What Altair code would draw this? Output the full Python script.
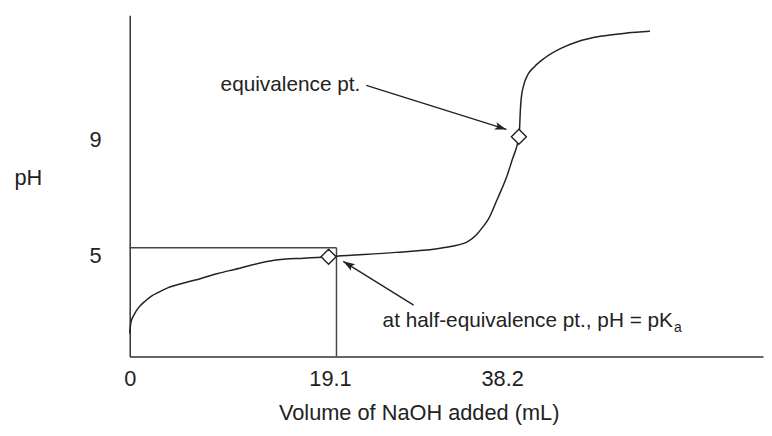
import math
import altair as alt
import pandas as pd

# ---- plot geometry (plot area only) ----
W, H = 640, 345
X_DOMAIN = [0, 58.5]
Y_DOMAIN = [1.5, 13.3]

# ---- titration curve (mL, pH) ----
curve_ml = [0.0, 0.064, 0.18, 0.37, 0.59, 0.82, 1.44, 2.01, 2.65, 3.56, 5.09, 6.58,
            8.14, 9.69, 13.35, 16.09, 17.73, 18.37, 19.1, 24.59, 28.24, 29.77,
            31.26, 32.03, 32.64, 33.09, 34.0, 34.77, 35.38, 35.78, 35.95,
            36.01, 36.08, 36.17, 36.41, 36.77, 37.39, 38.3, 39.83, 41.35,
            43.48, 45.92, 48.05]
curve_ph = [2.29, 2.56, 2.77, 2.92, 3.07, 3.19, 3.42, 3.59, 3.72, 3.88, 4.05, 4.20,
            4.37, 4.51, 4.83, 4.90, 4.93, 4.95, 4.97, 5.10, 5.22, 5.31,
            5.48, 5.71, 5.99, 6.22, 6.98, 7.66, 8.35, 8.80, 9.10,
            9.36, 9.98, 10.44, 10.90, 11.24, 11.52, 11.81, 12.15, 12.38,
            12.57, 12.68, 12.74]

# ---- marked points (diamonds) ----
marker_ml = [18.37, 35.95]
marker_ph = [4.95, 9.10]

# ---- half-equivalence guide lines ----
half_eq_ml = 19.1
guide_ph = 5.26

# ---- axis ticks ----
tick_pos = [0, 18.5, 34.4]
tick_labels = ["0", "19.1", "38.2"]
y_ticks = [5, 9]

# ---- annotation arrows ----
arrow_from_ml = [21.85, 26.23]
arrow_from_ph = [10.87, 3.28]
arrow_to_ml = [34.8, 19.72]
arrow_to_ph = [9.35, 4.79]

# ---- annotation texts ----
label_text = ["equivalence pt.", "at half-equivalence pt., pH = pK"]
label_ml = [21.3, 50.18]
label_ph = [10.67, 2.53]
sub_text = ["a"]

FONT = "Liberation Sans"
INK = "#222222"

px_x = W / (X_DOMAIN[1] - X_DOMAIN[0])
px_y = H / (Y_DOMAIN[1] - Y_DOMAIN[0])

curve_df = pd.DataFrame({"ml": curve_ml, "ph": curve_ph})
marker_df = pd.DataFrame({"ml": marker_ml, "ph": marker_ph})
guide_df = pd.DataFrame({
    "x": [X_DOMAIN[0], half_eq_ml],
    "x2": [half_eq_ml, half_eq_ml],
    "y": [guide_ph, guide_ph],
    "y2": [guide_ph, Y_DOMAIN[0]],
})
arrow_df = pd.DataFrame({
    "x": arrow_from_ml, "y": arrow_from_ph,
    "x2": arrow_to_ml, "y2": arrow_to_ph,
})
arrow_df["ang"] = [
    math.degrees(math.atan2(-(y2 - y1) * px_y, (x2 - x1) * px_x)) % 360
    for x1, y1, x2, y2 in zip(arrow_from_ml, arrow_from_ph, arrow_to_ml, arrow_to_ph)
]
label_df = pd.DataFrame({"ml": label_ml, "ph": label_ph, "t": label_text})
sub_df = pd.DataFrame({"ml": [label_ml[1]], "ph": [label_ph[1]], "t": sub_text})

label_expr = "".join(
    f"datum.value == {p} ? '{l}' : " for p, l in zip(tick_pos, tick_labels)
) + "''"

xscale = alt.Scale(domain=X_DOMAIN, nice=False, zero=False)
yscale = alt.Scale(domain=Y_DOMAIN, nice=False, zero=False)

x_axis = alt.Axis(
    values=tick_pos, labelExpr=label_expr, ticks=False, grid=False,
    labelFlush=False, labelOverlap=False, labelPadding=12,
    title="Volume of NaOH added (mL)", titlePadding=14, titleX=292,
)
y_axis = alt.Axis(
    values=y_ticks, ticks=False, grid=False, labelPadding=29,
    title="pH", titleAngle=0, titleX=-103, titleY=164,
    titleAlign="center", titleBaseline="middle",
)

base = alt.Chart(curve_df)

curve = base.mark_line(color=INK, strokeWidth=1.5, interpolate="monotone").encode(
    x=alt.X("ml:Q", scale=xscale, axis=x_axis),
    y=alt.Y("ph:Q", scale=yscale, axis=y_axis),
)

guides = alt.Chart(guide_df).mark_rule(color="#444444", strokeWidth=1.5).encode(
    x=alt.X("x:Q", scale=xscale), x2="x2:Q",
    y=alt.Y("y:Q", scale=yscale), y2="y2:Q",
)

arrows = alt.Chart(arrow_df).mark_rule(color=INK, strokeWidth=1.4).encode(
    x=alt.X("x:Q", scale=xscale), x2="x2:Q",
    y=alt.Y("y:Q", scale=yscale), y2="y2:Q",
)

heads = alt.Chart(arrow_df).mark_point(
    shape="M0,0 L-1,-0.33 L-0.78,0 L-1,0.33 Z",
    filled=True, color=INK, size=560, opacity=1, strokeWidth=0,
).encode(
    x=alt.X("x2:Q", scale=xscale),
    y=alt.Y("y2:Q", scale=yscale),
    angle=alt.Angle("ang:Q", scale=None),
)

diamonds = alt.Chart(marker_df).mark_point(
    shape="diamond", filled=True, fill="white", stroke=INK,
    strokeWidth=1.4, size=230, opacity=1,
).encode(
    x=alt.X("ml:Q", scale=xscale),
    y=alt.Y("ph:Q", scale=yscale),
)

labels = alt.Chart(label_df).mark_text(
    align="right", baseline="alphabetic", font=FONT, fontSize=21, color=INK,
).encode(
    x=alt.X("ml:Q", scale=xscale),
    y=alt.Y("ph:Q", scale=yscale),
    text="t:N",
)

sub = alt.Chart(sub_df).mark_text(
    align="left", baseline="alphabetic", font=FONT, fontSize=14, color=INK, dx=1, dy=5,
).encode(
    x=alt.X("ml:Q", scale=xscale),
    y=alt.Y("ph:Q", scale=yscale),
    text="t:N",
)

chart = alt.layer(guides, curve, arrows, heads, diamonds, labels, sub).properties(
    width=W, height=H,
    padding={"left": 123, "top": 5, "right": 1, "bottom": 70},
    autosize=alt.AutoSizeParams(type="none"),
    background="white",
).configure_view(stroke=None).configure_axis(
    labelFont=FONT, titleFont=FONT, labelFontSize=22, titleFontSize=22,
    labelColor=INK, titleColor=INK, titleFontWeight="normal",
    domainColor="#333333", domainWidth=1.5,
)

chart.save("out.html", embed_options={"renderer": "svg", "actions": False})
